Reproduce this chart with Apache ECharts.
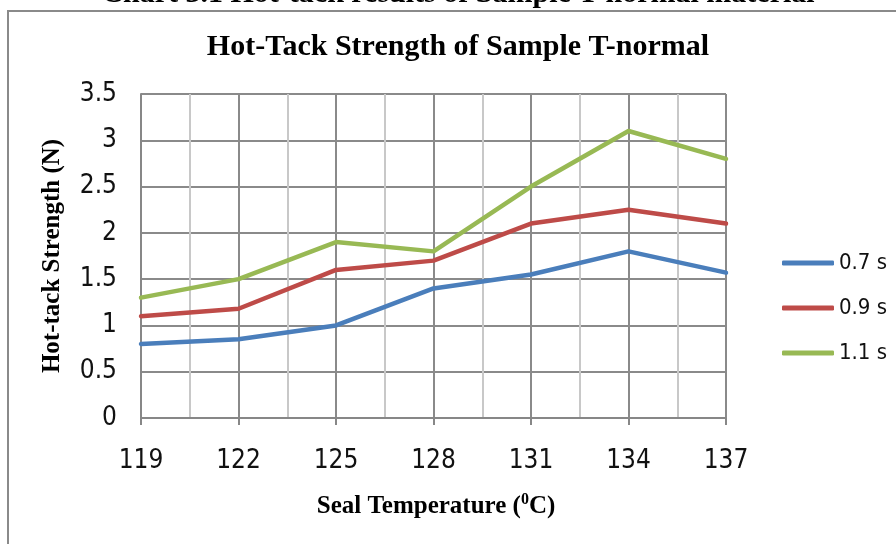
<!DOCTYPE html>
<html>
<head>
<meta charset="utf-8">
<script src="https://cdn.jsdelivr.net/npm/echarts@6/dist/echarts.min.js"></script>
<style>
  html, body { margin: 0; padding: 0; background: #ffffff; }
  #chart { width: 896px; height: 544px; }
</style>
</head>
<body>
<div id="chart"></div>
<script>
// Seal temperatures (°C) on the category axis
const temperatures = ['119', '122', '125', '128', '131', '134', '137'];

// Hot-tack strength (N) for each dwell time
const dwell07 = [0.8, 0.85, 1.0, 1.4, 1.55, 1.8, 1.57];
const dwell09 = [1.1, 1.18, 1.6, 1.7, 2.1, 2.25, 2.1];
const dwell11 = [1.3, 1.5, 1.9, 1.8, 2.5, 3.1, 2.8];

const seriesNames = ['0.7 s', '0.9 s', '1.1 s'];
const seriesColors = ['#4A7EBB', '#BE4B48', '#98B954'];

const serifFont = "'Liberation Serif', 'Times New Roman', serif";
const narrowFont = "'Liberation Sans Narrow', 'DejaVu Sans Condensed', 'Liberation Sans', sans-serif";

const chart = echarts.init(document.getElementById('chart'), null, { renderer: 'canvas' });

function lineSeries(name, values, color) {
  return {
    name: name,
    type: 'line',
    xAxisIndex: 1,
    data: values,
    showSymbol: false,
    symbol: 'none',
    smooth: false,
    lineStyle: { color: color, width: 4.5, cap: 'round', join: 'round' },
    itemStyle: { color: color },
    z: 5
  };
}

chart.setOption({
  animation: false,
  backgroundColor: '#ffffff',
  grid: { left: 141, right: 170, top: 94, bottom: 126, containLabel: false },
  xAxis: [
    {
      // half-step gridlines between temperatures
      type: 'value',
      position: 'top',
      min: 0,
      max: 12,
      interval: 1,
      axisLine: { show: false },
      axisTick: { show: false },
      axisLabel: { show: false },
      splitLine: { show: true, lineStyle: { color: '#c8c8c8', width: 2 } }
    },
    {
      type: 'category',
      position: 'bottom',
      data: temperatures,
      boundaryGap: false,
      axisLine: { show: true, lineStyle: { color: '#878787', width: 2 } },
      axisTick: { show: true, length: 7, lineStyle: { color: '#878787', width: 2 } },
      axisLabel: { color: '#111111', fontFamily: narrowFont, fontSize: 26, margin: 30 },
      splitLine: { show: true, lineStyle: { color: '#8a8a8a', width: 2 } }
    }
  ],
  yAxis: {
    type: 'value',
    min: 0,
    max: 3.5,
    interval: 0.5,
    axisLine: { show: true, lineStyle: { color: '#878787', width: 2 } },
    axisTick: { show: false },
    axisLabel: { color: '#111111', fontFamily: narrowFont, fontSize: 26, margin: 24 },
    splitLine: { show: true, lineStyle: { color: '#8a8a8a', width: 2 } }
  },
  legend: {
    orient: 'vertical',
    left: 777,
    top: 246,
    itemWidth: 52,
    itemHeight: 5,
    itemGap: 21,
    icon: 'roundRect',
    data: seriesNames,
    textStyle: { color: '#111111', fontFamily: narrowFont, fontSize: 22, lineHeight: 24 }
  },
  graphic: [
    {
      type: 'rect',
      shape: { x: 8, y: 11, width: 940, height: 600 },
      style: { fill: 'none', stroke: '#8a8a8a', lineWidth: 2 },
      silent: true
    },
    {
      type: 'text',
      x: 458, y: -6,
      style: {
        text: 'Chart 3.1 Hot-tack results of Sample T-normal material',
        font: 'bold 30px ' + serifFont,
        fill: '#000000', align: 'center', verticalAlign: 'middle'
      }
    },
    {
      type: 'text',
      x: 458, y: 47,
      style: {
        text: 'Hot-Tack Strength of Sample T-normal',
        font: 'bold 30px ' + serifFont,
        fill: '#000000', align: 'center', verticalAlign: 'middle'
      }
    },
    {
      type: 'text',
      x: 53, y: 256,
      rotation: Math.PI / 2,
      style: {
        text: 'Hot-tack Strength (N)',
        font: 'bold 25px ' + serifFont,
        fill: '#000000', align: 'center', verticalAlign: 'middle'
      }
    },
    {
      type: 'text',
      x: 436, y: 507,
      style: {
        text: '{a|Seal Temperature (}{s|0}{a|C)}',
        align: 'center', verticalAlign: 'middle',
        rich: {
          a: { fontFamily: serifFont, fontWeight: 'bold', fontSize: 25, lineHeight: 30, fill: '#000000', color: '#000000' },
          s: { fontFamily: serifFont, fontWeight: 'bold', fontSize: 16, lineHeight: 16, verticalAlign: 'top', fill: '#000000', color: '#000000' }
        }
      }
    }
  ],
  series: [
    lineSeries(seriesNames[0], dwell07, seriesColors[0]),
    lineSeries(seriesNames[1], dwell09, seriesColors[1]),
    lineSeries(seriesNames[2], dwell11, seriesColors[2])
  ]
});
</script>
</body>
</html>
